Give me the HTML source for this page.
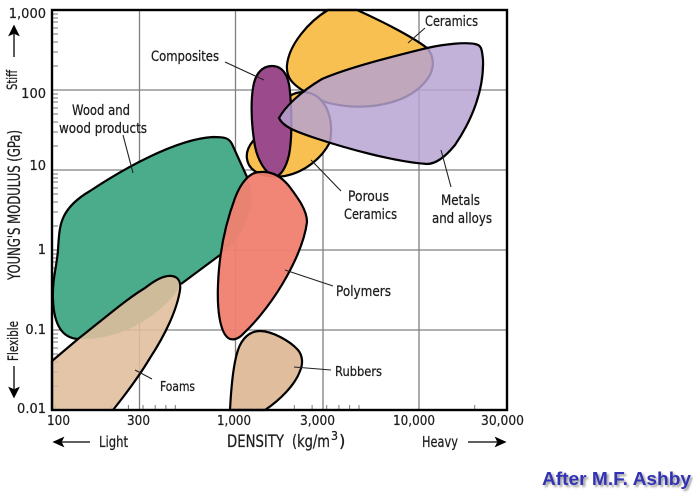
<!DOCTYPE html>
<html>
<head>
<meta charset="utf-8">
<style>
html,body{margin:0;padding:0;background:#fff;width:693px;height:496px;overflow:hidden}
svg{display:block}
text{font-family:"DejaVu Sans","Liberation Sans",sans-serif;fill:#1c1c1c;font-size:14px;stroke:#1c1c1c;stroke-width:.25px}
.n{font-size:13px;stroke-width:.2px}
.t{font-size:16.5px}
.a{font-family:"Liberation Sans",sans-serif;font-weight:bold;font-size:18px;fill:#3232b4;stroke:none;filter:drop-shadow(2px 2px 1px #999)}
</style>
</head>
<body>
<svg width="693" height="496" viewBox="0 0 693 496" xmlns="http://www.w3.org/2000/svg">
<defs>
<g id="ty" stroke="#777" stroke-width="1" fill="none">
<path d="M52 -24h6M52 -38h6M52 -48h6M52 -56h6M52 -62h6M52 -68h6M52 -72h6M52 -76h6"/>
</g>
<g id="tx" stroke="#777" stroke-width="1" fill="none">
<path d="M55.3 410v-5M110.6 410v-5M128.4 410v-5M143 410v-5M155.2 410v-5M165.9 410v-5M175.300 410v-5"/>
</g>
</defs>

<!-- grid -->
<g stroke="#808080" stroke-width="1.3" fill="none">
<path d="M139.5 10V410M235.500 10V410M323 10V410M419 10V410"/>
<path d="M52 90H506M52 170H506M52 250H506M52 330H506"/>
</g>
<use href="#ty" y="410"/><use href="#ty" y="330"/><use href="#ty" y="250"/><use href="#ty" y="170"/><use href="#ty" y="90"/>
<use href="#tx" x="0"/><use href="#tx" x="183.7"/>
<path d="M474.7 410v-5" stroke="#777" fill="none"/>

<!-- wood -->
<path d="M58 250C59 232 60 224 64 216C69 206 78 198 90 191C120 171 175 139 213 137C225 137 229 138 232 144L246 175C252 187 253 198 249 212C245 226 238 243 220 255L181 284C168 310 125 340 82 339C62 338 54 325 53 300C52 280 57 265 58 250Z" fill="#4bac8c" stroke="none"/>
<path d="M58 250C59 232 60 224 64 216C69 206 78 198 90 191C120 171 175 139 213 137C225 137 229 138 232 144L247 177M220 255L181 284M78 339C62 338 54 325 53 300C52 280 57 265 58 250" fill="none" stroke="#000" stroke-width="2.2"/>

<!-- ceramics -->
<path d="M328 10L357 10C375 18 410 35 427 48C436 58 434 72 425 82C405 106 360 112 325 102L302 90C293 84 286 78 287 65C289 45 308 22 328 10Z" fill="#f8c050" stroke="#000" stroke-width="2.2"/>
<!-- porous ceramics -->
<path d="M290 96C297 91 310 90 319 98C330 108 333 125 330 142C322 158 305 172 285 176C270 178 255 175 249 165C244 155 248 147 253 141Z" fill="#f8c050" stroke="#000" stroke-width="2.2"/>
<!-- composites -->
<path d="M272 66C283 66 289 76 290 92C292 115 292 140 289 155C286 168 280 177 275 176C265 174 256 158 254 140C251 120 251 100 253 88C255 74 262 66 272 66Z" fill="#9b4a8c" stroke="#000" stroke-width="2.2"/>
<!-- metals -->
<path d="M279 118C285 107 300 92 322 79C350 67 395 56 427 48C445 44 465 42 475 44C481 45 482 48 483 60C484 90 472 120 455 145C446 156 436 164 427 164C395 162 345 148 315 138C297 132 283 127 279 118Z" fill="#b6a2d0" fill-opacity="0.84" stroke="none"/>
<path d="M279 118C285 107 300 92 322 79C350 67 395 56 427 48C445 44 465 42 475 44C481 45 482 48 483 60C484 90 472 120 455 145C446 156 436 164 427 164C395 162 345 148 315 138C297 132 283 127 279 118Z" fill="none" stroke="#000" stroke-width="2.2"/>
<!-- polymers -->
<path d="M260 172C270 171 280 175 289 186C298 198 307 210 307 222C305 238 298 256 287 276C275 298 258 320 244 333C238 340 231 341 227 337C220 330 217 310 218 285C219 255 225 225 235 198C241 182 250 172 260 172Z" fill="#f08070" fill-opacity="0.95" stroke="#000" stroke-width="2.2"/>
<!-- foams -->
<path d="M52 361L78 339C100 322 125 300 145 288C155 280 165 275 172 276C179 277 181 283 180 290C177 310 165 335 150 358C138 378 125 395 113 410H52Z" fill="#e0bd9c" fill-opacity="0.88" stroke="none"/>
<path d="M52 361L78 339C100 322 125 300 145 288C155 280 165 275 172 276C179 277 181 283 180 290C177 310 165 335 150 358C138 378 125 395 113 410M52 410V361" fill="none" stroke="#000" stroke-width="2.2"/>
<!-- rubbers -->
<path d="M230 410C231 390 233 365 238 350C242 338 250 331 260 331C272 331 290 341 298 350C303 356 303 364 300 371C295 385 280 400 265 410Z" fill="#e0bd9c" stroke="#000" stroke-width="2.2"/>

<!-- frame -->
<rect x="52" y="10" width="455" height="400" fill="none" stroke="#000" stroke-width="2.4"/>

<!-- leaders -->
<g stroke="#222" stroke-width="1.1" fill="none">
<path d="M225 62L264 80M123 135L133 173M425 28L408 43M311 160L341 191M441 150L451 187M135 370L152 379M285 270L333 286M294 367L331 370"/>
</g>

<!-- arrows -->
<g stroke="#000" stroke-width="1.3" fill="#000">
<path d="M14 57V34" fill="none"/><path d="M14 26l4.500 9l-4.500 -2l-4.500 2z"/>
<path d="M14 366V389" fill="none"/><path d="M14 397l4.500 -9l-4.500 2l-4.500 -2z"/>
<path d="M90 442H62" fill="none"/><path d="M54 442l9 -4l-2 4l2 4z"/>
<path d="M468 442H497" fill="none"/><path d="M505 442l-9 -4l2 4l-2 4z"/>
</g>

<!-- y labels -->
<text class="n" x="46" y="18" text-anchor="end">1,000</text>
<text class="n" x="46" y="98" text-anchor="end">100</text>
<text class="n" x="46" y="170" text-anchor="end">10</text>
<text class="n" x="46" y="254" text-anchor="end">1</text>
<text class="n" x="46" y="334" text-anchor="end">0.1</text>
<text class="n" x="46" y="413" text-anchor="end">0.01</text>
<!-- x labels -->
<text class="n" x="47" y="425" textLength="23" lengthAdjust="spacingAndGlyphs">100</text>
<text class="n" x="127" y="425" textLength="23" lengthAdjust="spacingAndGlyphs">300</text>
<text class="n" x="217" y="425" textLength="34" lengthAdjust="spacingAndGlyphs">1,000</text>
<text class="n" x="300" y="425" textLength="35" lengthAdjust="spacingAndGlyphs">3,000</text>
<text class="n" x="393" y="425" textLength="42" lengthAdjust="spacingAndGlyphs">10,000</text>
<text class="n" x="481" y="425" textLength="43" lengthAdjust="spacingAndGlyphs">30,000</text>

<!-- axis titles -->
<text class="t" transform="translate(20,280) rotate(-90)" textLength="150" lengthAdjust="spacingAndGlyphs">YOUNG'S MODULUS (GPa)</text>
<text transform="translate(17,90) rotate(-90)" textLength="20" lengthAdjust="spacingAndGlyphs">Stiff</text>
<text transform="translate(18,361) rotate(-90)" textLength="40" lengthAdjust="spacingAndGlyphs">Flexible</text>
<text x="99" y="447" style="font-size:15px" textLength="29" lengthAdjust="spacingAndGlyphs">Light</text>
<text class="t" x="227" y="447" textLength="57" lengthAdjust="spacingAndGlyphs">DENSITY</text>
<text class="t" x="292" y="447" textLength="38" lengthAdjust="spacingAndGlyphs">(kg/m</text>
<text x="331" y="440" style="font-size:12px" textLength="7" lengthAdjust="spacingAndGlyphs">3</text>
<text class="t" x="339" y="447">)</text>
<text x="422" y="447" style="font-size:15px" textLength="36" lengthAdjust="spacingAndGlyphs">Heavy</text>

<!-- region labels -->
<text x="151" y="61" textLength="68" lengthAdjust="spacingAndGlyphs">Composites</text>
<text x="72" y="115" textLength="58" lengthAdjust="spacingAndGlyphs">Wood and</text>
<text x="59" y="133" textLength="88" lengthAdjust="spacingAndGlyphs">wood products</text>
<text x="425" y="26" textLength="53" lengthAdjust="spacingAndGlyphs">Ceramics</text>
<text x="348" y="201" textLength="41" lengthAdjust="spacingAndGlyphs">Porous</text>
<text x="344" y="219" textLength="53" lengthAdjust="spacingAndGlyphs">Ceramics</text>
<text x="441" y="205" textLength="39" lengthAdjust="spacingAndGlyphs">Metals</text>
<text x="432" y="223" textLength="60" lengthAdjust="spacingAndGlyphs">and alloys</text>
<text x="160" y="391" style="font-size:13px" textLength="35" lengthAdjust="spacingAndGlyphs">Foams</text>
<text x="336" y="296" textLength="55" lengthAdjust="spacingAndGlyphs">Polymers</text>
<text x="335" y="376" style="font-size:13px" textLength="47" lengthAdjust="spacingAndGlyphs">Rubbers</text>

<text class="a" x="542" y="485" textLength="149" lengthAdjust="spacingAndGlyphs">After M.F. Ashby</text>
</svg>
</body>
</html>
